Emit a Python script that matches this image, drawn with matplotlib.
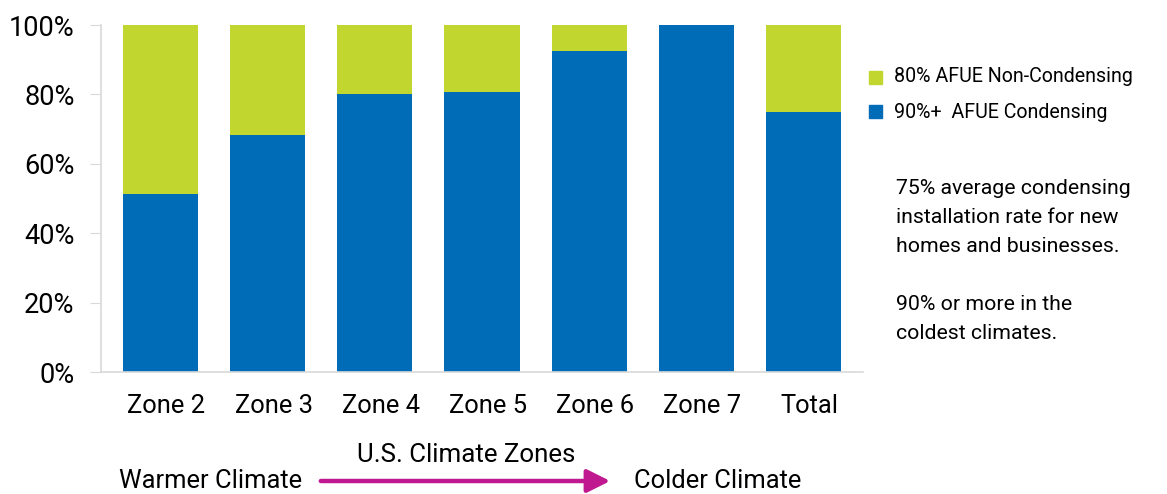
import matplotlib
matplotlib.use('Agg')
import matplotlib.pyplot as plt
import matplotlib.transforms as mtransforms
import numpy as np

zones = ['Zone 2', 'Zone 3', 'Zone 4', 'Zone 5', 'Zone 6', 'Zone 7', 'Total']
condensing = [51.3, 68.3, 80.1, 80.7, 92.5, 100.0, 74.9]
non_condensing = [100 - v for v in condensing]
y_ticks = [0, 20, 40, 60, 80, 100]

blue = '#006BB6'
green = '#C1D72F'
magenta = '#C0198F'

plt.rcParams['font.family'] = ['Roboto', 'DejaVu Sans']

fig = plt.figure(figsize=(11.67, 4.94), dpi=100)
W, H = 1167, 494
ax = fig.add_axes([101 / W, 1 - 372 / H, (863 - 101) / W, (372 - 25) / H])

x = np.arange(len(zones))
ax.bar(x, condensing, width=0.70, color=blue, label='90%+  AFUE Condensing')
ax.bar(x, non_condensing, width=0.70, bottom=condensing, color=green,
       label='80% AFUE Non-Condensing')

ax.set_xlim(-0.555, 6.555)
ax.set_ylim(0, 100)
ax.set_yticks(y_ticks)
ax.set_yticklabels([f'{t}%' for t in y_ticks], fontsize=19.5)
ax.set_xticks(x)
ax.set_xticklabels(zones, fontsize=18.4)
ax.tick_params(axis='x', length=0, pad=16)
ax.tick_params(axis='y', length=8, color='#D9D9D9', pad=11)
# the category labels sit a bit right of the bar centres in the original
shift = mtransforms.ScaledTranslation(6 / 100, 0, fig.dpi_scale_trans)
for lbl in ax.get_xticklabels():
    lbl.set_transform(lbl.get_transform() + shift)
for s in ['top', 'right']:
    ax.spines[s].set_visible(False)
for s in ['left', 'bottom']:
    ax.spines[s].set_color('#D9D9D9')
    ax.spines[s].set_linewidth(1.2)

# legend, manual so order matches
fig.patches.append(plt.Rectangle((869 / W, 1 - 84 / H), 13 / W, 13 / H,
                                 transform=fig.transFigure, color=green))
fig.patches.append(plt.Rectangle((869 / W, 1 - 118 / H), 13 / W, 13 / H,
                                 transform=fig.transFigure, color=blue))
fig.text(894 / W, 1 - 77 / H, '80% AFUE Non-Condensing', fontsize=14.1,
         va='center', ha='left')
fig.text(894 / W, 1 - 112 / H, '90%+  AFUE Condensing', fontsize=14.1,
         va='center', ha='left')

note = ('75% average condensing\ninstallation rate for new\n'
        'homes and businesses.\n\n90% or more in the\ncoldest climates.')
fig.text(896 / W, 1 - 179 / H, note, fontsize=15.3, va='top', ha='left',
         linespacing=1.66)

fig.text(466 / W, 1 - 455 / H, 'U.S. Climate Zones', fontsize=18.6,
         ha='center', va='center')
fig.text(119 / W, 1 - 481 / H, 'Warmer Climate', fontsize=18.4,
         ha='left', va='center')
fig.text(634 / W, 1 - 481 / H, 'Colder Climate', fontsize=18.4,
         ha='left', va='center')
fig.add_artist(matplotlib.patches.FancyArrowPatch(
    (318 / W, 1 - 481 / H), (613 / W, 1 - 481 / H),
    transform=fig.transFigure, arrowstyle='-|>,head_length=10,head_width=5',
    color=magenta, lw=3.2, mutation_scale=1.4))

fig.savefig('out.png', dpi=100)
